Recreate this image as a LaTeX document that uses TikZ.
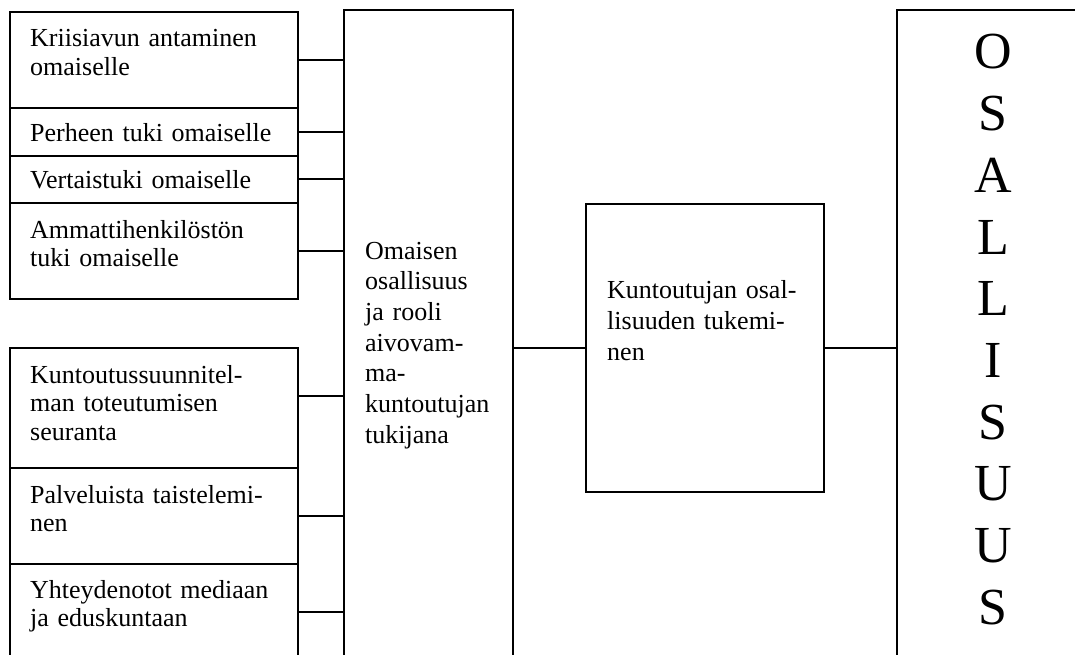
\documentclass[tikz,border=0pt]{standalone}
\usepackage{fontspec}
\setmainfont{Liberation Serif}
\usetikzlibrary{calc}
\begin{document}
\begin{tikzpicture}[x=1pt,y=-1pt,
  box/.style={draw, line width=1.7pt, rectangle, inner sep=0pt, anchor=north west},
  txt/.style={anchor=base west, inner sep=0pt, text width=265pt, align=left, font=\fontsize{26}{28.5}\selectfont},
  ln/.style={line width=1.7pt}]
\useasboundingbox (0,0) rectangle (1075,655);
\clip (0,0) rectangle (1075,655);
% left boxes
\node[box, minimum width=288pt, minimum height=96pt] (k1) at (9,11) {};
\node[box, minimum width=288pt, minimum height=48pt] (k2) at (9,107) {};
\node[box, minimum width=288pt, minimum height=47pt] (k3) at (9,155) {};
\node[box, minimum width=288pt, minimum height=96pt] (k4) at (9,202) {};
\node[box, minimum width=288pt, minimum height=120pt] (k5) at (9,347) {};
\node[box, minimum width=288pt, minimum height=96pt] (k6) at (9,467) {};
\node[box, minimum width=288pt, minimum height=96pt] (k7) at (9,563) {};
% middle, right boxes
\node[box, minimum width=169pt, minimum height=670pt] (mid) at (343,9) {};
\node[box, minimum width=238pt, minimum height=288pt] (kt) at (585,203) {};
\node[box, minimum width=200pt, minimum height=670pt] (os) at (896,9) {};
% texts
\node[txt] (t1) at (30,47) {Kriisiavun antaminen\\omaiselle};
\node[txt] (t2) at (30,142) {Perheen tuki omaiselle};
\node[txt] (t3) at (30,188) {Vertaistuki omaiselle};
\node[txt] (t4) at (30,238) {Ammattihenkilöstön\\tuki omaiselle};
\node[txt] (t5) at (30,383) {Kuntoutussuunnitel-\\man toteutumisen\\seuranta};
\node[txt] (t6) at (30,503) {Palveluista taistelemi-\\nen};
\node[txt] (t7) at (30,598) {Yhteydenotot mediaan\\ja eduskuntaan};
\node[txt, text width=145pt, font=\fontsize{26}{30.7}\selectfont] (tm) at (365,259)
  {Omaisen\\osallisuus\\ja rooli\\aivovam-\\ma-\\kuntoutujan\\tukijana};
\node[txt, text width=210pt, font=\fontsize{26}{31}\selectfont] (tk) at (607,298)
  {Kuntoutujan osal-\\lisuuden tukemi-\\nen};
\node[anchor=base, inner sep=0pt, text width=80pt, align=center, font=\fontsize{52}{61.7}\selectfont] (to) at (993,69)
  {O\\S\\A\\L\\L\\I\\S\\U\\U\\S};
% connectors
\foreach \k in {k1,k2,k3,k4,k6,k7}
  \draw[ln] (\k.east) -- (\k.east -| mid.west);
\coordinate (c5) at ($(k5.east)+(0,-12)$);
\draw[ln] (c5) -- (c5 -| mid.west);
\draw[ln] (kt.west -| mid.east) -- (kt.west);
\draw[ln] (kt.east) -- (kt.east -| os.west);
\end{tikzpicture}
\end{document}
